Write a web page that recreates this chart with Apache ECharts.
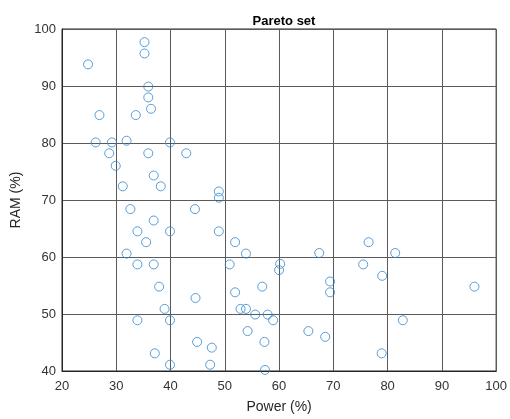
<!DOCTYPE html>
<html><head><meta charset="utf-8">
<script src="https://cdn.jsdelivr.net/npm/echarts@6/dist/echarts.min.js"></script>
<style>html,body{margin:0;padding:0;background:#fff}#c{width:510px;height:419px}</style>
</head><body><div id="c"></div>
<script>
const powerValues = [
  24.8, 35.2, 35.2, 35.9, 35.9, 36.4, 26.9, 33.6, 26.2, 29.2, 31.9, 39.9, 28.7, 35.9, 42.9, 29.9, 36.9, 31.2, 38.2, 48.9, 48.9,
  32.6, 44.5, 36.9, 33.9, 39.9, 48.9, 35.5, 51.9, 31.9, 53.9, 33.9, 36.9, 50.9, 37.9, 44.6, 51.9, 38.9, 52.9, 53.9, 55.6, 33.9, 39.9, 54.2, 44.9, 47.6, 37.1, 39.9, 47.3,
  56.9, 57.9, 58.9, 57.3, 57.4, 60.2, 60.0, 67.4, 69.4, 69.4, 65.4, 68.5, 76.5, 75.5, 81.4, 79.0, 96.0, 82.8, 78.9
];
const ramValues = [
  93.8, 97.7, 95.7, 89.9, 88.0, 86.0, 84.9, 84.9, 80.1, 80.1, 80.4, 80.1, 78.2, 78.2, 78.2, 76.0, 74.3, 72.4, 72.4, 71.5, 70.4,
  68.4, 68.4, 66.4, 64.5, 64.5, 64.5, 62.6, 62.6, 60.6, 60.6, 58.7, 58.7, 58.7, 54.8, 52.8, 53.8, 50.9, 50.9, 50.9, 49.9, 48.9, 48.9, 47.0, 45.1, 44.1, 43.1, 41.1, 41.1,
  54.8, 49.9, 48.9, 45.1, 40.2, 58.8, 57.7, 60.7, 55.7, 53.8, 47.0, 46.0, 62.6, 58.7, 60.7, 56.7, 54.8, 48.9, 43.1
];
const titleText = 'Pareto set';
const xLabel = 'Power (%)';
const yLabel = 'RAM (%)';

const points = powerValues.map((p, i) => [p, ramValues[i]]);
const font = 'Liberation Sans, Arial, sans-serif';
const chart = echarts.init(document.getElementById('c'), null, {renderer: 'canvas'});
chart.setOption({
  animation: false,
  title: {text: titleText, left: 279, top: 10, textAlign: 'center',
    textStyle: {fontFamily: font, fontSize: 13, fontWeight: 'bold', color: '#000'}},
  grid: {left: 62, right: 13, top: 29, bottom: 46, show: true, borderColor: '#262626', borderWidth: 1},
  xAxis: {type: 'value', min: 20, max: 100, interval: 10,
    name: xLabel, nameLocation: 'middle', nameGap: 29,
    nameTextStyle: {fontFamily: font, fontSize: 14, color: '#262626'},
    axisLine: {show: true, lineStyle: {color: '#262626'}},
    axisTick: {show: false},
    axisLabel: {fontFamily: font, fontSize: 13, color: '#333', margin: 9},
    splitLine: {show: true, lineStyle: {color: '#5a5a5a', width: 1}}},
  yAxis: {type: 'value', min: 40, max: 100, interval: 10,
    name: yLabel, nameLocation: 'middle', nameGap: 30,
    nameTextStyle: {fontFamily: font, fontSize: 14, color: '#262626'},
    axisLine: {show: true, lineStyle: {color: '#262626'}},
    axisTick: {show: false},
    axisLabel: {fontFamily: font, fontSize: 13, color: '#333', margin: 6},
    splitLine: {show: true, lineStyle: {color: '#5a5a5a', width: 1}}},
  series: [{type: 'scatter', data: points, symbol: 'circle', symbolSize: 9,
    itemStyle: {color: 'rgba(0,0,0,0)', borderColor: '#2f86cf', borderWidth: 1}}]
});
</script></body></html>
